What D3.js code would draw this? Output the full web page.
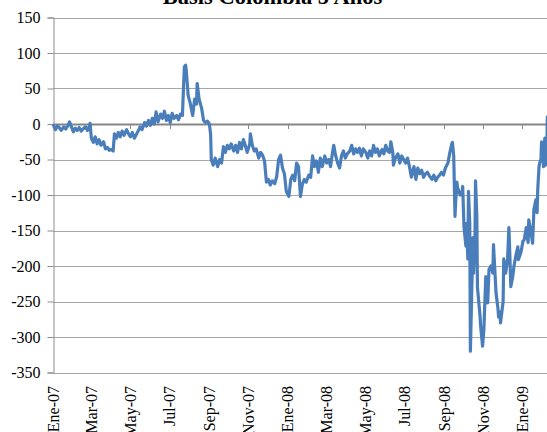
<!DOCTYPE html>
<html>
<head>
<meta charset="utf-8">
<script src="https://cdn.jsdelivr.net/npm/d3@7"></script>
<style>
  html, body { margin: 0; padding: 0; background: #fff; }
  svg { display: block; }
  text { font-family: "Liberation Serif", "Times New Roman", serif; fill: #000; }
</style>
</head>
<body>
<svg id="chart" width="547" height="432"></svg>
<script>
// Basis Colombia 5 años (pb), serie diaria muestreada
const fechas = [
  "2007-01-01","2007-01-04","2007-01-07","2007-01-10","2007-01-13","2007-01-17","2007-01-20","2007-01-23","2007-01-26","2007-01-29",
  "2007-02-01","2007-02-04","2007-02-07","2007-02-10","2007-02-13","2007-02-16","2007-02-20","2007-02-23","2007-02-26","2007-02-27",
  "2007-03-01","2007-03-04","2007-03-07","2007-03-10","2007-03-13","2007-03-16","2007-03-20","2007-03-23","2007-03-26","2007-03-29",
  "2007-04-01","2007-04-04","2007-04-06","2007-04-09","2007-04-12","2007-04-15","2007-04-18","2007-04-21","2007-04-25","2007-04-28",
  "2007-05-01","2007-05-04","2007-05-07","2007-05-10","2007-05-13","2007-05-16","2007-05-19","2007-05-23","2007-05-26","2007-05-29",
  "2007-06-01","2007-06-04","2007-06-07","2007-06-10","2007-06-13","2007-06-17","2007-06-20","2007-06-23","2007-06-26","2007-06-29",
  "2007-07-02","2007-07-05","2007-07-08","2007-07-12","2007-07-15","2007-07-18","2007-07-21","2007-07-24","2007-07-26","2007-07-27",
  "2007-07-30","2007-08-02","2007-08-06","2007-08-09","2007-08-12","2007-08-13","2007-08-16","2007-08-20","2007-08-23","2007-08-26",
  "2007-08-29","2007-09-01","2007-09-03","2007-09-04","2007-09-07","2007-09-10","2007-09-14","2007-09-17","2007-09-20","2007-09-23",
  "2007-09-26","2007-09-29","2007-10-02","2007-10-05","2007-10-09","2007-10-12","2007-10-15","2007-10-18","2007-10-21","2007-10-24",
  "2007-10-27","2007-10-30","2007-11-03","2007-11-04","2007-11-07","2007-11-10","2007-11-13","2007-11-17","2007-11-20","2007-11-23",
  "2007-11-26","2007-11-29","2007-12-02","2007-12-05","2007-12-08","2007-12-12","2007-12-15","2007-12-18","2007-12-21","2007-12-24",
  "2007-12-27","2007-12-30","2008-01-03","2008-01-06","2008-01-09","2008-01-12","2008-01-15","2008-01-18","2008-01-21","2008-01-24",
  "2008-01-27","2008-01-30","2008-02-03","2008-02-06","2008-02-09","2008-02-12","2008-02-15","2008-02-18","2008-02-21","2008-02-24",
  "2008-02-28","2008-03-02","2008-03-05","2008-03-08","2008-03-11","2008-03-13","2008-03-16","2008-03-19","2008-03-22","2008-03-25",
  "2008-03-28","2008-03-31","2008-04-03","2008-04-07","2008-04-10","2008-04-13","2008-04-16","2008-04-19","2008-04-22","2008-04-25",
  "2008-04-28","2008-05-02","2008-05-05","2008-05-08","2008-05-11","2008-05-14","2008-05-17","2008-05-20","2008-05-23","2008-05-27",
  "2008-05-30","2008-06-02","2008-06-05","2008-06-08","2008-06-10","2008-06-13","2008-06-14","2008-06-17","2008-06-21","2008-06-24",
  "2008-06-27","2008-06-30","2008-07-03","2008-07-06","2008-07-09","2008-07-12","2008-07-16","2008-07-19","2008-07-22","2008-07-25",
  "2008-07-28","2008-07-31","2008-08-03","2008-08-06","2008-08-09","2008-08-13","2008-08-16","2008-08-19","2008-08-22","2008-08-25",
  "2008-08-28","2008-08-31","2008-09-03","2008-09-07","2008-09-10","2008-09-13","2008-09-14","2008-09-16","2008-09-18","2008-09-19",
  "2008-09-21","2008-09-22","2008-09-26","2008-09-29","2008-09-30","2008-10-02","2008-10-05","2008-10-06","2008-10-08","2008-10-09",
  "2008-10-11","2008-10-12","2008-10-14","2008-10-16","2008-10-17","2008-10-19","2008-10-20","2008-10-22","2008-10-23","2008-10-25",
  "2008-10-27","2008-10-28","2008-10-31","2008-11-02","2008-11-05","2008-11-06","2008-11-08","2008-11-10","2008-11-13","2008-11-16",
  "2008-11-17","2008-11-21","2008-11-24","2008-11-25","2008-11-27","2008-11-28","2008-12-02","2008-12-03","2008-12-06","2008-12-09",
  "2008-12-11","2008-12-12","2008-12-14","2008-12-17","2008-12-19","2008-12-22","2008-12-25","2008-12-26","2008-12-30","2009-01-02",
  "2009-01-04","2009-01-07","2009-01-10","2009-01-11","2009-01-14","2009-01-17","2009-01-19","2009-01-22","2009-01-24","2009-01-25",
  "2009-01-27","2009-01-28","2009-01-30","2009-01-31","2009-02-02","2009-02-03","2009-02-05","2009-02-06","2009-02-08","2009-02-09"
];

const basis = [
  -2, -8, -3, -5, -9, -4, -7, -3, 3, -4,
  -11, -6, -9, -5, -10, -7, -4, -9, -3, 1,
  -20, -26, -18, -28, -22, -30, -25, -35, -33, -37,
  -36, -38, -14, -20, -12, -18, -10, -16, -8, -14,
  -18, -12, -20, -15, -10, -4, -8, 2, -3, 5,
  -2, 8, 0, 17, 3, 14, 8, 18, 5, 12,
  2, 15, 8, 12, 6, 14, 12, 80, 83, 75,
  40, 30, 12, 35, 28, 57, 35, 22, 5, 2,
  4, 0, -15, -50, -58, -48, -60, -50, -55, -32,
  -40, -30, -35, -28, -38, -30, -40, -26, -35, -22,
  -30, -40, -28, -14, -30, -38, -35, -48, -40, -44,
  -52, -82, -78, -86, -80, -84, -74, -50, -44, -62,
  -70, -95, -102, -78, -72, -80, -55, -60, -102, -85,
  -78, -82, -72, -75, -45, -60, -52, -68, -48, -60,
  -45, -55, -50, -60, -40, -30, -45, -55, -62, -45,
  -38, -48, -42, -38, -30, -42, -35, -40, -34, -45,
  -35, -40, -48, -38, -45, -30, -40, -35, -45, -36,
  -42, -30, -38, -40, -25, -40, -58, -48, -42, -55,
  -45, -50, -55, -48, -60, -75, -60, -78, -62, -70,
  -65, -75, -70, -68, -73, -78, -72, -80, -75, -72,
  -68, -72, -62, -55, -40, -28, -26, -45, -130, -110,
  -82, -90, -100, -95, -88, -145, -172, -140, -190, -95,
  -140, -320, -240, -160, -210, -170, -80, -130, -230, -250,
  -270, -285, -313, -290, -215, -240, -252, -205, -200, -210,
  -170, -238, -260, -272, -265, -280, -250, -190, -210, -190,
  -146, -170, -229, -215, -200, -185, -173, -191, -180, -165,
  -163, -146, -167, -135, -150, -168, -121, -107, -125, -93,
  -60, -55, -50, -25, -45, -60, -20, -58, -40, 10
];

const yTicks = [150, 100, 50, 0, -50, -100, -150, -200, -250, -300, -350];
const xTickFechas = ["2007-01-01","2007-03-01","2007-05-01","2007-07-01","2007-09-01","2007-11-01",
                     "2008-01-01","2008-03-01","2008-05-01","2008-07-01","2008-09-01","2008-11-01","2009-01-01"];
const mesesCortos = ["Ene","Feb","Mar","Abr","May","Jun","Jul","Ago","Sep","Oct","Nov","Dic"];
const titulo = "Basis Colombia 5 Años";

const parse = d3.utcParse("%Y-%m-%d");
const serie = fechas.map((f, i) => ({ fecha: parse(f), valor: basis[i] }));

const svg = d3.select("#chart");
const plotLeft = 53.5, plotRight = 548, plotTop = 17.5, plotBottom = 372.5;

const x = d3.scaleUtc()
  .domain([parse("2007-01-01"), parse("2009-02-10")])
  .range([plotLeft, plotRight]);
const y = d3.scaleLinear().domain([-350, 150]).range([plotBottom, plotTop]);

// Title
svg.append("text")
  .attr("x", 272.5).attr("y", 3.5)
  .attr("text-anchor", "middle")
  .style("font-size", "22.5px").style("font-weight", "bold")
  .text(titulo);

// Horizontal gridlines
svg.append("g")
  .selectAll("line")
  .data(yTicks)
  .join("line")
  .attr("x1", plotLeft).attr("x2", plotRight)
  .attr("y1", d => Math.round(y(d)) + 0.5).attr("y2", d => Math.round(y(d)) + 0.5)
  .attr("stroke", "#a6a6a6").attr("stroke-width", 1);

// Value axis (plain hyphen for negatives)
const yAxis = d3.axisLeft(y).tickValues(yTicks).tickSize(6).tickPadding(7).tickFormat(d => String(d));
const gy = svg.append("g").attr("transform", `translate(${plotLeft},0)`).call(yAxis);
gy.select(".domain").attr("stroke", "#8c8c8c");
gy.selectAll(".tick line").attr("stroke", "#8c8c8c");
gy.selectAll(".tick text")
  .style("font-size", "16px").style("font-family", "Liberation Serif, serif")
  .attr("fill", "#000").attr("dy", "0.33em");

// Date axis crossing at zero, labels at the bottom
const ticksX = xTickFechas.map(parse);
const gx = svg.append("g");
gx.append("line")
  .attr("x1", plotLeft).attr("x2", plotRight)
  .attr("y1", Math.round(y(0)) + 0.5).attr("y2", Math.round(y(0)) + 0.5)
  .attr("stroke", "#868686").attr("stroke-width", 2);
gx.selectAll("line.tk")
  .data(ticksX)
  .join("line")
  .attr("class", "tk")
  .attr("x1", d => Math.round(x(d)) + 0.5).attr("x2", d => Math.round(x(d)) + 0.5)
  .attr("y1", y(0) + 1).attr("y2", y(0) + 5)
  .attr("stroke", "#868686").attr("stroke-width", 1);
gx.selectAll("text")
  .data(ticksX)
  .join("text")
  .attr("transform", d => `translate(${x(d) + 5.5},386) rotate(-90)`)
  .attr("text-anchor", "end")
  .style("font-size", "16px")
  .text(d => `${mesesCortos[d.getUTCMonth()]}-${String(d.getUTCFullYear()).slice(2)}`);

// Series line
const line = d3.line().x(d => x(d.fecha)).y(d => y(d.valor));
svg.append("path")
  .datum(serie)
  .attr("fill", "none")
  .attr("stroke", "#4a7ebb")
  .attr("stroke-width", 3.2)
  .attr("stroke-linejoin", "round")
  .attr("stroke-linecap", "round")
  .attr("d", line);
</script>
</body>
</html>
